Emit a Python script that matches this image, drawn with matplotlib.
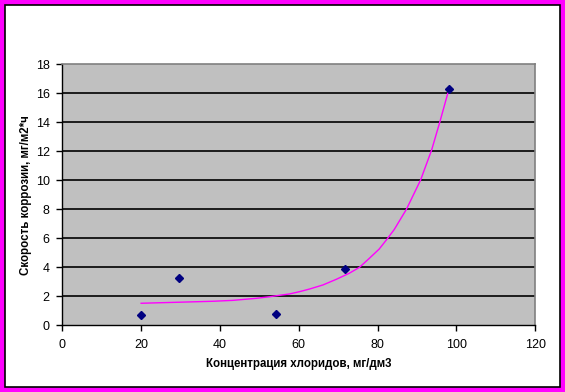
import matplotlib
matplotlib.use('Agg')
from matplotlib import pyplot as plt
from matplotlib.patches import Rectangle

# measured points
conc = [20, 29.6, 54.2, 71.6, 98]
rate = [0.7, 3.24, 0.76, 3.88, 16.3]

# trend line
trend_x = [20, 29.4, 38.5, 43.3, 49.2, 52.6, 55.4, 57.6, 60.2, 62.7, 66.1, 69.5, 72.8, 75.4,
           77.9, 80.4, 82.4, 84.2, 87.3, 90.9, 93.7, 95.8, 97.8]
trend_y = [1.52, 1.59, 1.66, 1.72, 1.86, 1.97, 2.08, 2.16, 2.32, 2.5, 2.78, 3.17, 3.59, 4.0,
           4.62, 5.26, 5.95, 6.6, 8.0, 10.02, 12.09, 14.04, 16.0]

xticks = [0, 20, 40, 60, 80, 100, 120]
yticks = [0, 2, 4, 6, 8, 10, 12, 14, 16, 18]

W, H = 565, 392
plt.rcParams['font.family'] = ['Liberation Sans', 'DejaVu Sans']

fig = plt.figure(figsize=(W / 100, H / 100), dpi=100)
fig.patch.set_facecolor('#FF00FF')
# white chart area with thin black frame
fig.patches.append(Rectangle((5 / W, 1 - 387 / H), 555 / W, 382 / H, transform=fig.transFigure,
                             facecolor='white', edgecolor='black', linewidth=1.2, zorder=-10))

left, right, top, bottom = 62.3, 535.3, 64.3, 325.3
ax = fig.add_axes([left / W, 1 - bottom / H, (right - left) / W, (bottom - top) / H])
ax.set_zorder(1)
ax.set_facecolor('#C0C0C0')
ax.set_xlim(0, 120)
ax.set_ylim(0, 18)
ax.set_xticks(xticks)
ax.set_yticks(yticks)
ax.tick_params(direction='out', length=4, width=1, labelsize=9, colors='black')
ax.tick_params(axis='x', pad=6)
ax.tick_params(axis='y', pad=5)
for y in yticks[1:-1]:
    ax.axhline(y, color='black', linewidth=1.2, zorder=1)

for s in ['top', 'right']:
    ax.spines[s].set_color('#808080')
    ax.spines[s].set_linewidth(1.2)
for s in ['left', 'bottom']:
    ax.spines[s].set_color('black')
    ax.spines[s].set_linewidth(1)

ax.plot(trend_x, trend_y, color='#FF00FF', linewidth=1, zorder=2)
ax.plot(conc, rate, 'D', color='#000080', markersize=4.5, linestyle='none', zorder=3)

ax.set_xlabel('Концентрация хлоридов, мг/дм3', fontsize=8.3, fontweight='bold', va='center')
ax.xaxis.set_label_coords(0.5, -39.2 / (bottom - top))
ax.set_ylabel('Скорость коррозии, мг/м2*ч', fontsize=8.3, fontweight='bold', va='center')
ax.yaxis.set_label_coords(-35.8 / (right - left), 0.5)

plt.savefig('out.png', dpi=100, facecolor=fig.get_facecolor())
